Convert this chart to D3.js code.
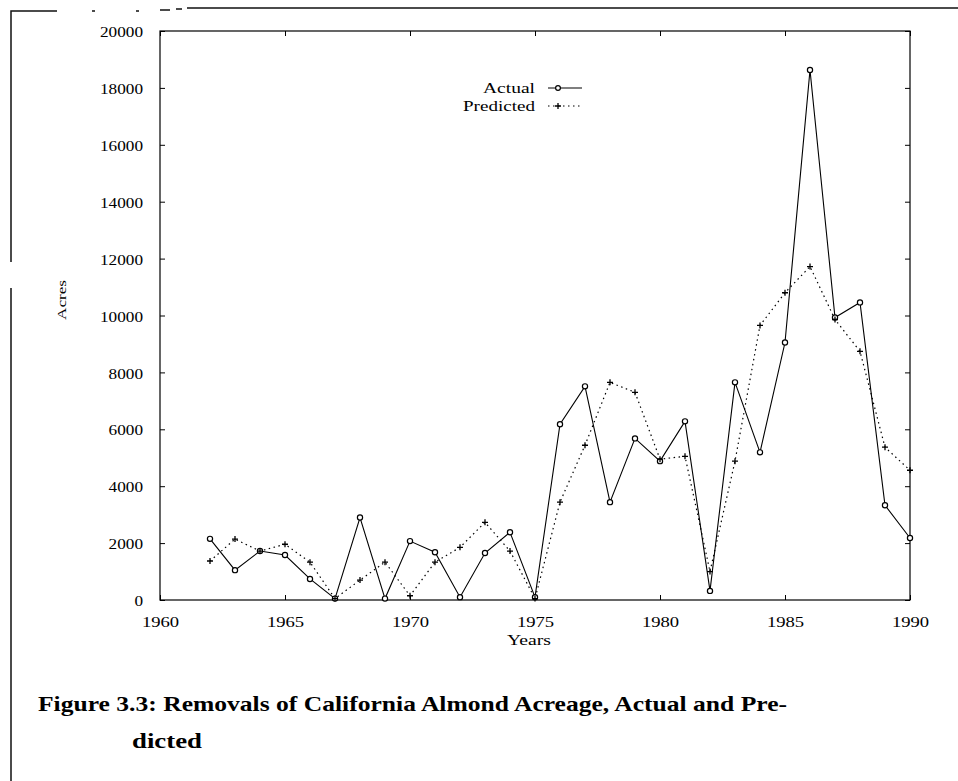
<!DOCTYPE html>
<html><head><meta charset="utf-8">
<script src="https://cdn.jsdelivr.net/npm/d3@7"></script>
<style>body{margin:0;background:#fff}svg{display:block}</style>
</head><body>
<script>
const years = d3.range(1962, 1991);
const actual = [2150,1050,1720,1580,740,50,2900,50,2070,1680,100,1650,2380,100,
  6180,7510,3440,5680,4880,6280,320,7650,5190,9050,18630,9930,10460,3330,2180];
const predicted = [1370,2140,1720,1960,1330,50,700,1330,150,1330,1850,2730,1720,50,
  3440,5440,7650,7300,4950,5050,1000,4880,9650,10800,11720,9860,8740,5370,4560];
const xTicks = [1960,1965,1970,1975,1980,1985,1990];
const yTicks = [0,2000,4000,6000,8000,10000,12000,14000,16000,18000,20000];
const seriesNames = ["Actual","Predicted"];

const W = 958, H = 781;
const svg = d3.select("body").append("svg").attr("width", W).attr("height", H);
const font = "'Liberation Serif','DejaVu Serif',serif";

// page frame (scan border)
svg.append("path").attr("d","M11,781 V288 M11,262 V11 H57 M92,11 H95 M136,11 H139 M160,10 H170 M176,9 H182 M187,8 H958")
  .attr("fill","none").attr("stroke","#111").attr("stroke-width",1.5);

const x = d3.scaleLinear().domain([1960,1990]).range([160,910]);
const y = d3.scaleLinear().domain([0,20000]).range([600,31]);

const g = svg.append("g");
g.append("rect").attr("x",160).attr("y",31).attr("width",750).attr("height",569)
  .attr("fill","none").attr("stroke","#000").attr("stroke-width",1.2);

const ax = g.append("g").attr("transform","translate(0,600)")
  .call(d3.axisBottom(x).tickValues(xTicks).tickFormat(d3.format("d")).tickSize(-5).tickPadding(16));
const ay = g.append("g").attr("transform","translate(160,0)")
  .call(d3.axisLeft(y).tickValues(yTicks).tickFormat(d3.format("d")).tickSize(-5).tickPadding(17));
const axT = g.append("g").attr("transform","translate(0,31)")
  .call(d3.axisTop(x).tickValues(xTicks).tickFormat("").tickSize(-5));
const ayR = g.append("g").attr("transform","translate(910,0)")
  .call(d3.axisRight(y).tickValues(yTicks).tickFormat("").tickSize(-5));
[ax,ay,axT,ayR].forEach(a=>{
  a.select(".domain").remove();
  a.selectAll("line").attr("stroke","#000");
  a.selectAll("text").attr("font-family",font).attr("fill","#000");
});
ax.selectAll("text").attr("font-size",15).attr("dy","0.71em")
  .attr("textLength",d=>String(d).length*9.3).attr("lengthAdjust","spacingAndGlyphs");
ay.selectAll("text").attr("font-size",14).attr("dy","0.4em")
  .attr("textLength",d=>String(d).length*8.6).attr("lengthAdjust","spacingAndGlyphs");

// axis titles
svg.append("text").attr("x",529).attr("y",645).attr("text-anchor","middle")
  .attr("font-family",font).attr("font-size",14).attr("textLength",44).attr("lengthAdjust","spacingAndGlyphs").text("Years");
svg.append("text").attr("transform","translate(66,300) rotate(-90)").attr("text-anchor","middle")
  .attr("font-family",font).attr("font-size",13).attr("textLength",40).attr("lengthAdjust","spacingAndGlyphs").text("Acres");

// lines
const line = d3.line().x((d,i)=>x(years[i])).y(d=>y(d));
g.append("path").datum(predicted).attr("d",line).attr("fill","none")
  .attr("stroke","#000").attr("stroke-width",1.2).attr("stroke-dasharray","1.5,3.5");
g.append("path").datum(actual).attr("d",line).attr("fill","none")
  .attr("stroke","#000").attr("stroke-width",1.1);

// markers
g.selectAll(".pa").data(actual).join("circle")
  .attr("cx",(d,i)=>x(years[i])).attr("cy",d=>y(d)).attr("r",2.6)
  .attr("fill","#fff").attr("stroke","#000").attr("stroke-width",1.2);
g.selectAll(".pp").data(predicted).join("path")
  .attr("transform",(d,i)=>`translate(${x(years[i])},${y(d)})`)
  .attr("d","M-3,0H3M0,-3V3").attr("stroke","#000").attr("stroke-width",1.3);

// legend
const lg = svg.append("g");
lg.append("text").attr("x",535).attr("y",93).attr("text-anchor","end")
  .attr("font-family",font).attr("font-size",14).attr("textLength",52).attr("lengthAdjust","spacingAndGlyphs").text(seriesNames[0]);
lg.append("text").attr("x",535).attr("y",111).attr("text-anchor","end")
  .attr("font-family",font).attr("font-size",14).attr("textLength",72).attr("lengthAdjust","spacingAndGlyphs").text(seriesNames[1]);
lg.append("line").attr("x1",548).attr("x2",582).attr("y1",88).attr("y2",88).attr("stroke","#000").attr("stroke-width",1.1);
lg.append("circle").attr("cx",558).attr("cy",88).attr("r",2.4).attr("fill","#fff").attr("stroke","#000").attr("stroke-width",1.2);
lg.append("line").attr("x1",548).attr("x2",582).attr("y1",106).attr("y2",106).attr("stroke","#000").attr("stroke-width",1.2).attr("stroke-dasharray","1.5,3.5");
lg.append("path").attr("transform","translate(558,106)").attr("d","M-3,0H3M0,-3V3").attr("stroke","#000").attr("stroke-width",1.3);

// caption
svg.append("text").attr("x",38).attr("y",711).attr("font-family",font).attr("font-weight","bold")
  .attr("font-size",21).attr("textLength",749).attr("lengthAdjust","spacingAndGlyphs")
  .text("Figure 3.3:  Removals of California Almond Acreage, Actual and Pre-");
svg.append("text").attr("x",132).attr("y",748).attr("font-family",font).attr("font-weight","bold")
  .attr("font-size",21).attr("textLength",70).attr("lengthAdjust","spacingAndGlyphs")
  .text("dicted");
</script>
</body></html>
